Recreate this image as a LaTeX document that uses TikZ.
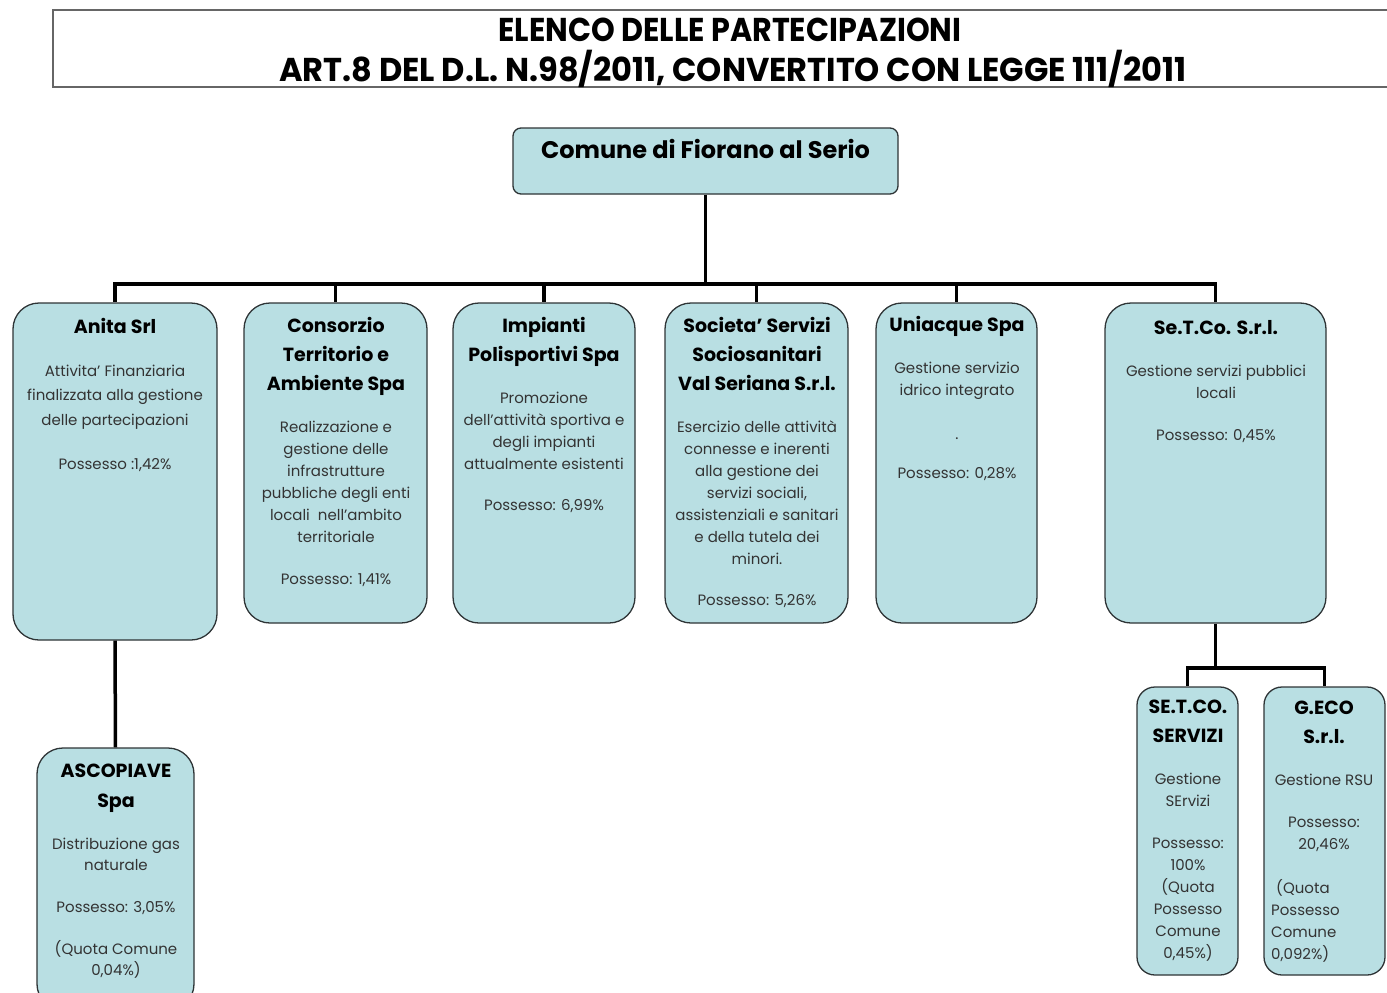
\documentclass[tikz,border=0pt]{standalone}
\usepackage{fontspec}
\setmainfont{Poppins}
\usepackage{graphicx}
\definecolor{boxfill}{HTML}{B9DFE3}
\definecolor{bord}{HTML}{2E3436}
\definecolor{txt}{HTML}{333333}
\tikzset{
  box/.style={draw=bord, line width=1.3pt, fill=boxfill, rounded corners=26pt, inner sep=0pt},
  smallbox/.style={box, rounded corners=18pt},
  conn/.style={line width=3.5pt, black},
  head/.style={font=\bfseries\fontsize{19}{29}\selectfont, align=center, inner sep=0pt, anchor=north, text=black},
  body/.style={font=\fontsize{15}{22}\selectfont, align=center, inner sep=0pt, anchor=north, text=txt},
  ttl/.style={inner sep=0pt, text=black},
}
\newcommand{\hs}{\rule{0pt}{15pt}}
\newcommand{\bs}{\rule{0pt}{12pt}}
\begin{document}
\begin{tikzpicture}[x=1pt,y=-1pt]
\useasboundingbox (0,0) rectangle (1387,993);
\clip (0,0) rectangle (1387,993);
% title frame
\draw[gray!80!black, line width=1.5pt] (1400,10) -- (53,10) -- (53,87) -- (1400,87);
\node[ttl] (t1) at (730,30) {\scalebox{0.915}[1]{\fontsize{33}{33}\selectfont\bfseries ELENCO DELLE PARTECIPAZIONI}};
\node[ttl] (t2) at (733,69) {\scalebox{0.97}[1]{\fontsize{33}{33}\selectfont\bfseries ART.8 DEL D.L. N.98/2011, CONVERTITO CON LEGGE 111/2011}};
% root
\node[box, rounded corners=8pt, minimum width=385pt, minimum height=66pt] (root) at (705.5,161) {};
\node[ttl, font=\bfseries\fontsize{24}{24}\selectfont] (rootT) at (705.5,149) {Comune di Fiorano al Serio};
% children
\node[box, minimum width=204pt, minimum height=337pt] (anita) at (115,471.5) {};
\node[box, minimum width=183pt, minimum height=320pt] (cons) at (335.5,463) {};
\node[box, minimum width=182pt, minimum height=320pt] (imp) at (544,463) {};
\node[box, minimum width=183pt, minimum height=320pt] (soc) at (756.5,463) {};
\node[box, minimum width=161pt, minimum height=320pt] (uni) at (956.5,463) {};
\node[box, minimum width=221pt, minimum height=320pt] (setco) at (1215.5,463) {};
\node[box, minimum width=157pt, minimum height=262pt] (asco) at (115.5,879) {};
\node[smallbox, minimum width=101pt, minimum height=288pt] (serv) at (1187.5,831) {};
\node[smallbox, minimum width=121pt, minimum height=288pt] (geco) at (1324.5,831) {};
% connectors
\coordinate (bus) at (705.5,284);
\coordinate (bus2) at (1215.5,668);
\draw[conn] (root.south) -- (bus);
\foreach \c in {anita,cons,imp,soc,uni,setco} \draw[conn] (bus) -| (\c.north);
\draw[conn] (anita.south) -- (asco.north);
\draw[conn] (setco.south) -- (bus2);
\draw[conn] (bus2) -| (serv.north);
\draw[conn] (bus2) -| (geco.north);
% texts
\node[head] (anitaH) at (115,318) {\hs Anita Srl};
\node[body, font=\fontsize{15}{24.5}\selectfont] (anitaB) at (115,364) {\bs Attivita’ Finanziaria\\finalizzata alla gestione\\delle partecipazioni\\[20pt]Possesso :1,42\%};
\node[head] (consH) at (336,317) {\hs Consorzio\\Territorio e\\Ambiente Spa};
\node[body] (consB) at (336,420) {\bs Realizzazione e\\gestione delle\\infrastrutture\\pubbliche degli enti\\locali~~nell’ambito\\territoriale\\[20pt]Possesso: 1,41\%};
\node[head] (impH) at (544,317) {\hs Impianti\\Polisportivi Spa};
\node[body] (impB) at (544,391) {\bs Promozione\\dell’attività sportiva e\\degli impianti\\attualmente esistenti\\[19pt]Possesso: 6,99\%};
\node[head] (socH) at (757,317) {\hs Societa’ Servizi\\Sociosanitari\\Val Seriana S.r.l.};
\node[body] (socB) at (757,420) {\bs Esercizio delle attività\\connesse e inerenti\\alla gestione dei\\servizi sociali,\\assistenziali e sanitari\\e della tutela dei\\minori.\\[19pt]Possesso: 5,26\%};
\node[head] (uniH) at (957,316) {\hs Uniacque Spa};
\node[body] (uniB) at (957,361) {\bs Gestione servizio\\idrico integrato\\[22pt].\\[17pt]Possesso: 0,28\%};
\node[head] (setcoH) at (1216,319) {\hs Se.T.Co. S.r.l.};
\node[body] (setcoB) at (1216,364) {\bs Gestione servizi pubblici\\locali\\[20pt]Possesso: 0,45\%};
\node[head, font=\bfseries\fontsize{19}{30}\selectfont] (ascoH) at (116,762) {\hs ASCOPIAVE\\Spa};
\node[body, font=\fontsize{15}{21}\selectfont] (ascoB) at (116,837) {\bs Distribuzione gas\\naturale\\[21pt]Possesso: 3,05\%\\[21pt](Quota Comune\\0,04\%)};
\node[head] (servH) at (1188,698) {\hs SE.T.CO.\\SERVIZI};
\node[body] (servB) at (1188,772) {\bs Gestione\\SErvizi\\[20pt]Possesso:\\100\%\\(Quota\\Possesso\\Comune\\0,45\%)};
\node[head] (gecoH) at (1324,699) {\hs G.ECO\\S.r.l.};
\node[body] (gecoB) at (1324,773) {\bs Gestione RSU\\[20pt]Possesso:\\20,46\%};
\node[body, anchor=north west, align=left] (gecoQ) at (1271,879) {\bs\hspace{5pt}(Quota\\Possesso\\Comune\\0,092\%)};
\end{tikzpicture}
\end{document}
